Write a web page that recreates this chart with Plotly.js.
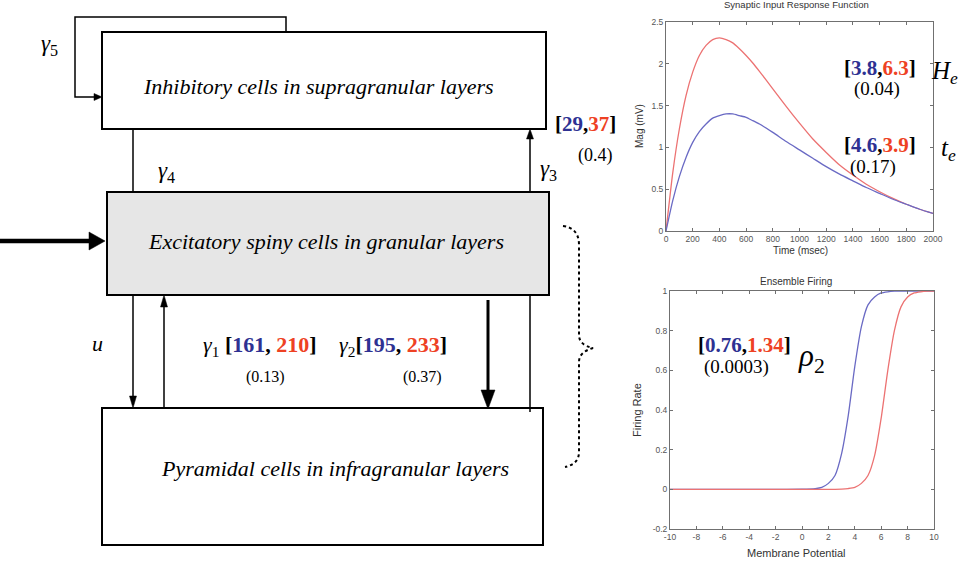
<!DOCTYPE html>
<html>
<head>
<meta charset="utf-8">
<script src="https://cdn.plot.ly/plotly-3.0.1.min.js"></script>
<style>html,body{margin:0;padding:0;background:#fff;}#chart{width:962px;height:563px;}</style>
</head>
<body>
<div id="chart"></div>
<script>
// ---- Synaptic Input Response Function ----
const timeMs = [0,50,100,150,200,250,300,350,400,450,500,550,600,650,700,800,900,1000,1100,1200,1300,1400,1500,1600,1700,1800,1900,2000];
const magRed = [0,0.69,1.22,1.62,1.90,2.10,2.22,2.29,2.31,2.29,2.25,2.18,2.10,2.01,1.91,1.70,1.49,1.29,1.10,0.94,0.79,0.67,0.56,0.47,0.39,0.32,0.26,0.21];
const magBlue = [0,0.36,0.65,0.88,1.06,1.19,1.28,1.35,1.38,1.40,1.40,1.38,1.36,1.32,1.28,1.18,1.07,0.97,0.87,0.77,0.68,0.60,0.52,0.45,0.38,0.32,0.26,0.21];
const magYTicks = [0,0.5,1,1.5,2,2.5];
const timeTicks = [0,200,400,600,800,1000,1200,1400,1600,1800,2000];

// ---- Ensemble Firing ----
const potential = [-10,-8,-6,-4,-2,0,1,1.5,2,2.5,3,3.5,4,4.5,5,5.5,6,6.5,7,7.5,8,8.5,9,9.5,10];
const firingBlue = [0,0,0,0,0,0.001,0.004,0.01,0.03,0.07,0.18,0.37,0.62,0.82,0.93,0.97,0.99,0.996,0.999,1,1,1,1,1,1];
const firingRed  = [0,0,0,0,0,0,0,0,0,0,0.001,0.004,0.01,0.03,0.07,0.17,0.36,0.60,0.80,0.92,0.97,0.99,0.996,0.999,1];
const rateTicks = [-0.2,0,0.2,0.4,0.6,0.8,1];
const rateTickText = ['-0.2','0','0.2','0.4','0.6','0.8','1'];
const potTicks = [-10,-8,-6,-4,-2,0,2,4,6,8,10];
const potTickText = ['-10','-8','-6','-4','-2','0','2','4','6','8','10'];

// ---- Diagram labels ----
const boxLabels = ["Inhibitory cells in supragranular layers", "Excitatory spiny cells in granular layers", "Pyramidal cells in infragranular layers"];
const BLUE = '#2e3192', RED = '#ee4123';
function pair(a, b, sep) { return '<b>[<span style="color:' + BLUE + '">' + a + '</span>,' + (sep || '') + '<span style="color:' + RED + '">' + b + '</span>]</b>'; }

const serif = 'Liberation Serif';
const sans = 'Liberation Sans';
const lineBlue = '#6a6ac4', lineRed = '#ec7272';

const traces = [
  {x: timeMs, y: magRed, type: 'scatter', mode: 'lines', line: {color: lineRed, width: 1.3, shape: 'spline', smoothing: 0.5}, xaxis: 'x', yaxis: 'y', hoverinfo: 'skip'},
  {x: timeMs, y: magBlue, type: 'scatter', mode: 'lines', line: {color: lineBlue, width: 1.3, shape: 'spline', smoothing: 0.5}, xaxis: 'x', yaxis: 'y', hoverinfo: 'skip'},
  {x: potential, y: firingBlue, type: 'scatter', mode: 'lines', line: {color: lineBlue, width: 1.3, shape: 'spline', smoothing: 0.6}, xaxis: 'x2', yaxis: 'y2', hoverinfo: 'skip'},
  {x: potential, y: firingRed, type: 'scatter', mode: 'lines', line: {color: lineRed, width: 1.3, shape: 'spline', smoothing: 0.6}, xaxis: 'x2', yaxis: 'y2', hoverinfo: 'skip'}
];

const axCommon = {showline: true, linecolor: '#707070', linewidth: 1, mirror: 'ticks', ticks: 'inside', ticklen: 3, tickcolor: '#707070', showgrid: false, zeroline: false, tickfont: {family: sans, size: 8.5, color: '#555'}, fixedrange: true};

function pxShape(s) { return Object.assign({xref: 'x3', yref: 'y3'}, s); }
function line(x0, y0, x1, y1, w) { return pxShape({type: 'line', x0: x0, y0: y0, x1: x1, y1: y1, line: {color: '#000', width: w || 1.5}}); }
function tri(p) { return pxShape({type: 'path', path: p, fillcolor: '#000', line: {color: '#000', width: 0.5}}); }

const shapes = [
  pxShape({type: 'rect', x0: 102, y0: 32, x1: 546, y1: 129, line: {color: '#000', width: 2}, fillcolor: 'rgba(0,0,0,0)'}),
  pxShape({type: 'path', path: 'M286,32 L286,17 L75,17 L75,97 L96,97', line: {color: '#000', width: 1.5}}),
  tri('M94,93.5 L102,97 L94,100.5 Z'),
  line(133, 129, 133, 192),
  line(530, 192, 530, 136),
  tri('M526.5,139 L530,129 L533.5,139 Z'),
  pxShape({type: 'rect', x0: 107, y0: 192, x1: 549, y1: 295, line: {color: '#000', width: 2}, fillcolor: '#e6e6e6'}),
  line(0, 241, 92, 241, 4.5),
  tri('M89,232 L105,241 L89,250 Z'),
  line(133, 295, 133, 398),
  tri('M129.5,396 L133,408 L136.5,396 Z'),
  line(164, 408, 164, 305),
  tri('M160.5,307 L164,295 L167.5,307 Z'),
  line(488, 300, 488, 392, 3),
  tri('M481,390 L488,409 L495,390 Z'),
  line(530, 295, 530, 412),
  pxShape({type: 'rect', x0: 102, y0: 408, x1: 543, y1: 545, line: {color: '#000', width: 2}, fillcolor: 'rgba(0,0,0,0)'}),
  pxShape({type: 'path', path: 'M563,226 Q579,228 579,245 L579,335 Q579,345 593,348 Q579,352 579,362 L579,452 Q579,464 565,467', line: {color: '#000', width: 2, dash: 'dot'}})
];

function ann(x, y, text, size, opts) {
  return Object.assign({xref: 'x3', yref: 'y3', x: x, y: y, text: text, showarrow: false, xanchor: 'center', yanchor: 'middle', font: {family: serif, size: size, color: '#000'}}, opts || {});
}
const sansFont = (s) => ({font: {family: sans, size: s, color: '#333'}});

const annotations = [
  ann(318, 86, '<i>' + boxLabels[0] + '</i>', 22),
  ann(326, 241, '<i>' + boxLabels[1] + '</i>', 22),
  ann(335, 468, '<i>' + boxLabels[2] + '</i>', 22),
  ann(49, 45, '<i>γ</i><sub>5</sub>', 23),
  ann(166, 172, '<i>γ</i><sub>4</sub>', 23),
  ann(548, 170, '<i>γ</i><sub>3</sub>', 23),
  ann(585, 124, pair('29', '37'), 21),
  ann(595, 155, '(0.4)', 18),
  ann(97, 343, '<i>u</i>', 22),
  ann(260, 346, '<i>γ</i><sub>1</sub> ' + pair('161', '210', ' '), 22),
  ann(393, 346, '<i>γ</i><sub>2</sub>' + pair('195', '233', ' '), 22),
  ann(265, 377, '(0.13)', 16),
  ann(422, 377, '(0.37)', 16),
  ann(796, 4, 'Synaptic Input Response Function', 9, sansFont(9.5)),
  ann(800, 250, 'Time (msec)', 10, sansFont(10)),
  ann(639, 126, 'Mag (mV)', 10, Object.assign(sansFont(10), {textangle: -90})),
  ann(796, 281, 'Ensemble Firing', 10, sansFont(10)),
  ann(796, 553, 'Membrane Potential', 11, sansFont(11)),
  ann(637, 410, 'Firing Rate', 11, Object.assign(sansFont(11), {textangle: -90})),
  ann(880, 68, pair('3.8', '6.3'), 21),
  ann(877, 89, '(0.04)', 19),
  ann(960, 72, '<i>H<sub>e</sub></i>', 25, {xanchor: 'right'}),
  ann(880, 145, pair('4.6', '3.9'), 21),
  ann(873, 167, '(0.17)', 19),
  ann(958, 149, '<i>t<sub>e</sub></i>', 25, {xanchor: 'right'}),
  ann(744, 345, pair('0.76', '1.34'), 21),
  ann(736, 367, '(0.0003)', 19),
  ann(811, 358, '<i>ρ</i><sub>2</sub>', 31)
];

const layout = {
  width: 962, height: 563,
  margin: {l: 0, r: 0, t: 0, b: 0},
  paper_bgcolor: '#fff', plot_bgcolor: 'rgba(0,0,0,0)',
  showlegend: false,
  xaxis: Object.assign({}, axCommon, {domain: [666/962, 933/962], range: [0, 2000], tickvals: timeTicks, anchor: 'y'}),
  yaxis: Object.assign({}, axCommon, {domain: [1-231/563, 1-22/563], range: [0, 2.5], tickvals: magYTicks, anchor: 'x'}),
  xaxis2: Object.assign({}, axCommon, {domain: [670/962, 934/962], range: [-10, 10], tickvals: potTicks, ticktext: potTickText, anchor: 'y2'}),
  yaxis2: Object.assign({}, axCommon, {domain: [1-529/563, 1-291/563], range: [-0.2, 1], tickvals: rateTicks, ticktext: rateTickText, anchor: 'x2'}),
  xaxis3: {domain: [0, 1], range: [0, 962], visible: false, fixedrange: true, anchor: 'y3'},
  yaxis3: {domain: [0, 1], range: [563, 0], visible: false, fixedrange: true, anchor: 'x3'},
  shapes: shapes,
  annotations: annotations
};

Plotly.newPlot('chart', traces, layout, {staticPlot: true, displayModeBar: false});
</script>
</body>
</html>
